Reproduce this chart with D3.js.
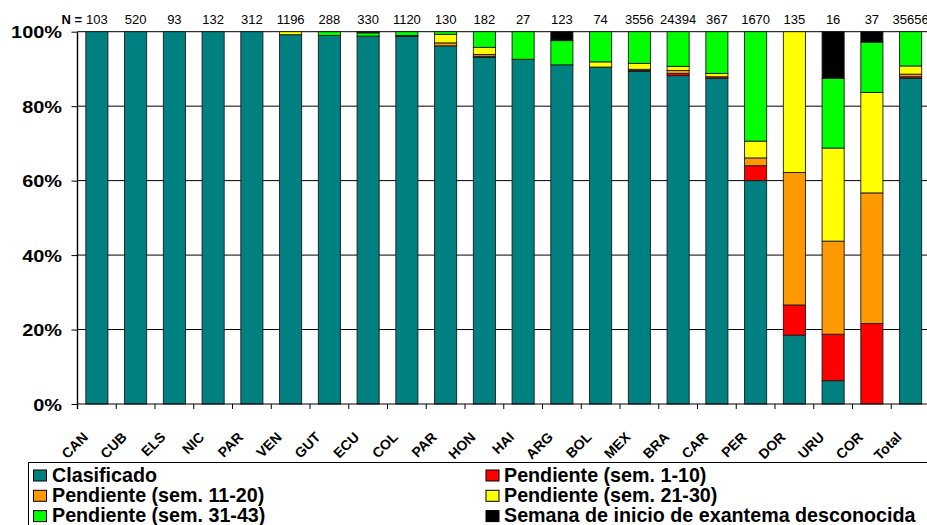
<!DOCTYPE html>
<html>
<head>
<meta charset="utf-8">
<script src="https://cdn.jsdelivr.net/npm/d3@7/dist/d3.min.js"></script>
<style>
  html, body { margin: 0; padding: 0; background: #fff; }
  svg { display: block; font-family: Arial, "Liberation Sans", sans-serif; }
</style>
</head>
<body>
<svg id="chart" width="927" height="525"></svg>
<script>
const categories = ["CAN","CUB","ELS","NIC","PAR","VEN","GUT","ECU","COL","PAR","HON","HAI","ARG","BOL","MEX","BRA","CAR","PER","DOR","URU","COR","Total"];
const nValues = ["103","520","93","132","312","1196","288","330","1120","130","182","27","123","74","3556","24394","367","1670","135","16","37","35656"];
const clasificado = [100,100,100,100,100,99.2,99.0,98.8,98.7,96.2,93.1,92.6,91.1,90.5,89.3,88.2,87.5,60.0,18.5,6.25,0,87.5];
const pend1_10    = [0,0,0,0,0,0,0,0,0.3,0,0.3,0,0,0,0.3,0.6,0.4,4.0,8.1,12.5,21.6,0.4];
const pend11_20   = [0,0,0,0,0,0,0,0,0,0.8,0.5,0,0,0,0.3,0.8,0,2.1,35.6,25,35.1,0.7];
const pend21_30   = [0,0,0,0,0,0.8,0,0,0,2.3,1.9,0,0,1.4,1.6,1.1,0.9,4.5,37.8,25,27.0,2.2];
const pend31_43   = [0,0,0,0,0,0,1.0,0.9,1.0,0.7,4.2,7.4,6.5,8.1,8.5,9.3,11.2,29.4,0,18.75,13.5,9.2];
const desconocida = [0,0,0,0,0,0,0,0.3,0,0,0,0,2.4,0,0,0,0,0,0,12.5,2.8,0];
const yTicks = [0,20,40,60,80,100];
const seriesNames = ["Clasificado","Pendiente (sem. 1-10)","Pendiente (sem. 11-20)","Pendiente (sem. 21-30)","Pendiente (sem. 31-43)","Semana de inicio de exantema desconocida"];
const seriesColors = ["#008080","#FF0000","#FF9900","#FFFF00","#00FF00","#000000"];

const svg = d3.select("#chart");
const keys = ["c","p1","p2","p3","p4","u"];
const rows = categories.map((c, i) => ({
  idx: i, cat: c,
  c: clasificado[i], p1: pend1_10[i], p2: pend11_20[i], p3: pend21_30[i], p4: pend31_43[i], u: desconocida[i]
}));

const x = d3.scaleBand().domain(d3.range(categories.length)).range([77.5, 930]).padding(0);
const y = d3.scaleLinear().domain([0, 100]).range([404, 31.7]);
const barW = x.bandwidth() * 0.57;

// gridlines
svg.append("g").selectAll("line").data(yTicks.filter(t => t > 0)).join("line")
  .attr("x1", 77.5).attr("x2", 930)
  .attr("y1", d => y(d)).attr("y2", d => y(d))
  .attr("stroke", "#000").attr("stroke-width", 1);

// bars
const stacked = d3.stack().keys(keys)(rows);
const gBars = svg.append("g");
stacked.forEach((layer, li) => {
  gBars.append("g").selectAll("rect")
    .data(layer.filter(d => d[1] - d[0] > 0))
    .join("rect")
    .attr("x", d => x(d.data.idx) + (x.bandwidth() - barW) / 2)
    .attr("width", barW)
    .attr("y", d => y(Math.min(d[1], 100)))
    .attr("height", d => y(d[0]) - y(Math.min(d[1], 100)))
    .attr("fill", seriesColors[li])
    .attr("stroke", "#1a1a1a")
    .attr("stroke-width", 0.9);
});

// y axis
const yAxis = d3.axisLeft(y).tickValues(yTicks).tickSize(6).tickFormat(d => d + "%");
const gy = svg.append("g").attr("transform", "translate(77.5,0)").call(yAxis);
gy.select(".domain").remove();
gy.selectAll(".tick line").attr("stroke", "#000");
gy.selectAll(".tick text").remove();
gy.selectAll(".tick").append("text")
  .attr("transform", "translate(-15.5,0) scale(1.17,1)")
  .attr("text-anchor", "end").attr("dy", "0.36em")
  .attr("fill", "#000").attr("font-weight", "bold").attr("font-size", 17)
  .attr("font-family", "Arial, 'Liberation Sans', sans-serif")
  .text(d => d + "%");
svg.append("line").attr("x1", 77.5).attr("x2", 77.5).attr("y1", 31.7).attr("y2", 409)
  .attr("stroke", "#000").attr("stroke-width", 1.4);

// x axis baseline and ticks at category boundaries
svg.append("line").attr("x1", 77.5).attr("x2", 930).attr("y1", 404).attr("y2", 404)
  .attr("stroke", "#000").attr("stroke-width", 1.2);
svg.append("g").selectAll("line").data(d3.range(categories.length + 1)).join("line")
  .attr("x1", d => 77.5 + d * x.step()).attr("x2", d => 77.5 + d * x.step())
  .attr("y1", 404).attr("y2", 409).attr("stroke", "#000").attr("stroke-width", 1);

// x labels: text laid along a -45 degree path ending at each anchor
const defs = svg.append("defs");
const L = 60, c45 = Math.SQRT1_2;
categories.forEach((d, i) => {
  const ax = x(i) + x.bandwidth() / 2 - 8, ay = 438;
  defs.append("path").attr("id", "xlp" + i)
    .attr("d", `M${ax - L * c45},${ay + L * c45} L${ax},${ay}`);
});
svg.append("g").selectAll("text").data(categories).join("text")
  .attr("font-weight", "bold").attr("font-size", 14).attr("fill", "#000")
  .append("textPath")
  .attr("href", (d, i) => "#xlp" + i)
  .attr("startOffset", "100%").attr("text-anchor", "end")
  .text(d => d);

// N labels
svg.append("text").attr("x", 82).attr("y", 24).attr("text-anchor", "end")
  .attr("font-weight", "bold").attr("font-size", 13).text("N =");
svg.append("g").selectAll("text").data(nValues).join("text")
  .attr("x", (d, i) => x(i) + x.bandwidth() / 2).attr("y", 24)
  .attr("text-anchor", "middle").attr("font-size", 13).attr("fill", "#000").text(d => d);

// legend
svg.append("rect").attr("x", 28.5).attr("y", 462.5).attr("width", 920).attr("height", 80)
  .attr("fill", "#fff").attr("stroke", "#000").attr("stroke-width", 1);
const legendPos = [[0,0],[1,0],[0,1],[1,1],[0,2],[1,2]];
const colX = [33, 485.5];
const textX = [52, 504];
const baseY = 481.5, rowH = 20.3;
seriesNames.forEach((name, k) => {
  const [col, row] = legendPos[k];
  const by = baseY + row * rowH;
  svg.append("rect").attr("x", colX[col] + 0.5).attr("y", by - 11.5).attr("width", 13).attr("height", 11)
    .attr("fill", seriesColors[k]).attr("stroke", "#000").attr("stroke-width", 1);
  svg.append("text").attr("x", textX[col]).attr("y", by)
    .attr("font-weight", "bold").attr("font-size", 19.7).attr("fill", "#000")
    .text(name);
});
</script>
</body>
</html>
